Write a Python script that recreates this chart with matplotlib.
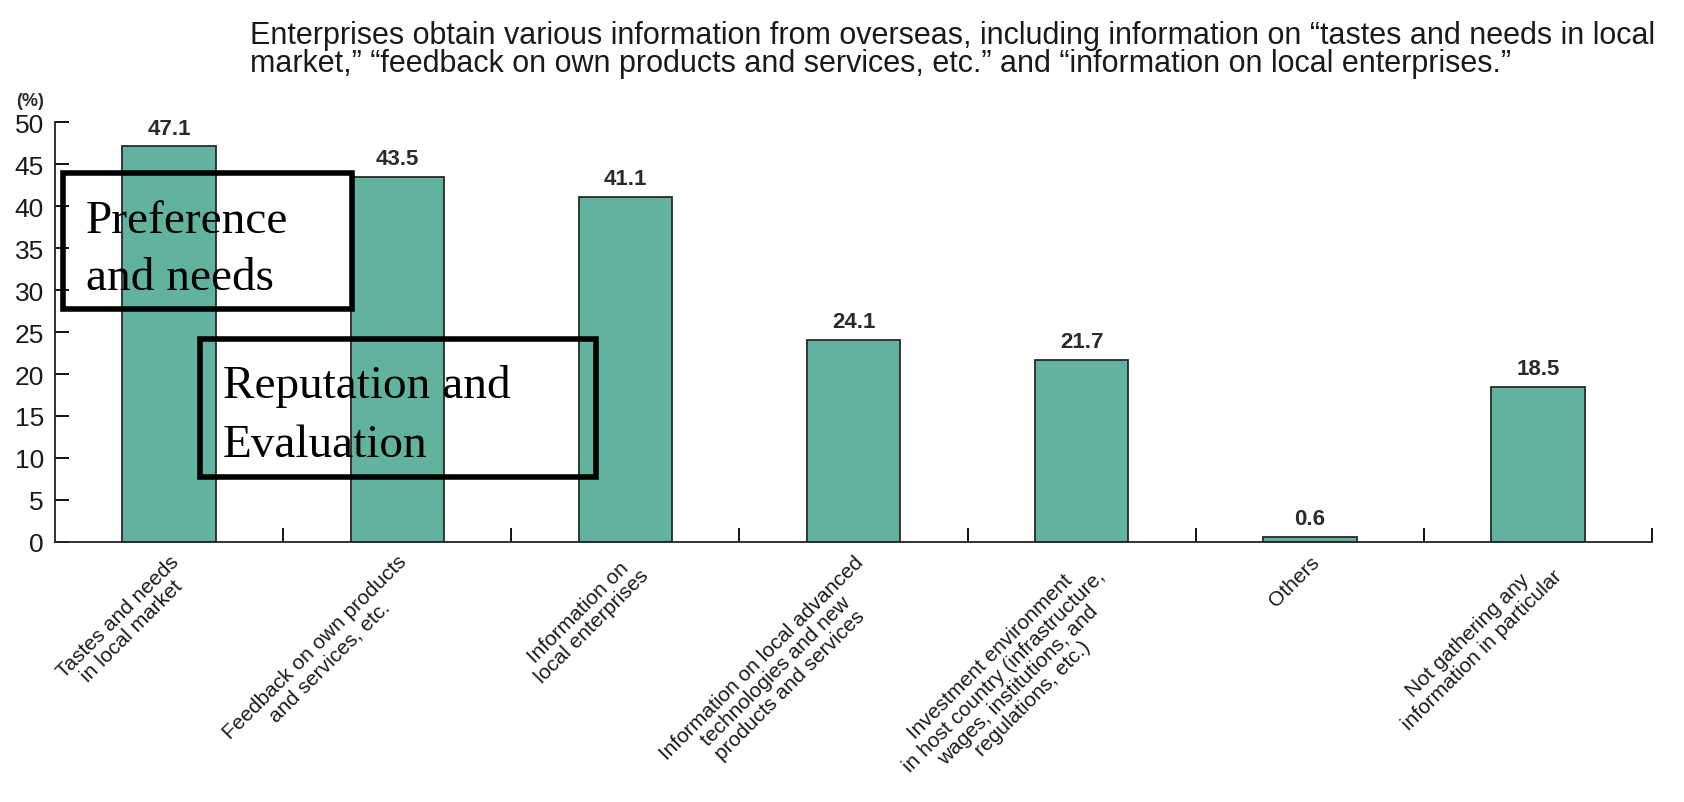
import matplotlib.pyplot as plt
from matplotlib.patches import Rectangle

# Dados do gráfico
categorias = [
    "Tastes and needs\nin local market",
    "Feedback on own products\nand services, etc.",
    "Information on\nlocal enterprises",
    "Information on local advanced\ntechnologies and new\nproducts and services",
    "Investment environment\nin host country (infrastructure,\nwages, institutions, and\nregulations, etc.)",
    "Others",
    "Not gathering any\ninformation in particular",
]
valores = [47.1, 43.5, 41.1, 24.1, 21.7, 0.6, 18.5]
yticks = [0, 5, 10, 15, 20, 25, 30, 35, 40, 45, 50]

titulo = ("Enterprises obtain various information from overseas, including information on \u201ctastes and needs in local\n"
          "market,\u201d \u201cfeedback on own products and services, etc.\u201d and \u201cinformation on local enterprises.\u201d")

plt.rcParams['font.family'] = ['Liberation Sans', 'DejaVu Sans']

fig = plt.figure(figsize=(16.84, 8.03), dpi=100)
ax = fig.add_axes([0.0327, 0.3238, 0.981 - 0.0327, 0.8468 - 0.3238])

x = list(range(len(valores)))
barras = ax.bar(x, valores, width=0.41, color='#62b2a0', edgecolor='#2a2a2a', linewidth=1.3)

# Rótulos de valor
for xi, v in zip(x, valores):
    ax.text(xi, v + 0.9, f"{v}", ha='center', va='bottom', fontsize=16, fontweight='bold', color='#2a2a2a')

ax.set_xlim(-0.5, len(valores) - 0.5)
ax.set_ylim(0, 50)
ax.set_yticks(yticks)
ax.tick_params(axis='y', direction='in', length=10, width=1.3, labelsize=19, pad=8, labelcolor='#1a1a1a')

ax.set_xticks(x)
ax.set_xticklabels(categorias, rotation=45, ha='right', va='top', rotation_mode='anchor',
                   multialignment='center', fontsize=15, color='#1a1a1a', linespacing=1.05)
ax.tick_params(axis='x', which='major', length=0, pad=7)
ax.set_xticks([i + 0.5 for i in x], minor=True)
ax.tick_params(axis='x', which='minor', direction='in', length=10, width=1.3)

for s in ['top', 'right']:
    ax.spines[s].set_visible(False)
for s in ['left', 'bottom']:
    ax.spines[s].set_linewidth(1.3)
    ax.spines[s].set_color('#222222')

# Título e unidade
fig.text(0.1485, 0.974, titulo, ha='left', va='top', fontsize=22, color='#1a1a1a', linespacing=0.9)
fig.text(30 / 1684, 1 - 102 / 803, "(%)", ha='center', va='center', fontsize=13, fontweight='bold', color='#2a2a2a')

# Caixas de anotação
fig.add_artist(Rectangle((63 / 1684, 1 - 310 / 803), 289 / 1684, 136 / 803, transform=fig.transFigure,
                         fill=False, edgecolor='black', linewidth=4))
fig.add_artist(Rectangle((200 / 1684, 1 - 478 / 803), 396 / 1684, 138 / 803, transform=fig.transFigure,
                         fill=False, edgecolor='black', linewidth=4))

serif = dict(family='Liberation Serif', fontsize=34, color='black', ha='left', va='baseline')
fig.text(86 / 1684, 1 - 233 / 803, "Preference", **serif)
fig.text(86 / 1684, 1 - 290 / 803, "and needs", **serif)
fig.text(223 / 1684, 1 - 398 / 803, "Reputation and", **serif)
fig.text(223 / 1684, 1 - 457 / 803, "Evaluation", **serif)

fig.savefig("out.png", dpi=100)
